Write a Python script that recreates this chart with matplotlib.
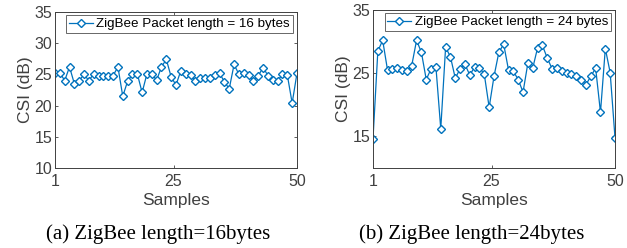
import numpy as np
import matplotlib
matplotlib.use("Agg")
import matplotlib.pyplot as plt

# CSI per sample
csi_16 = [25.3, 25.3, 24.0, 26.2, 23.5, 24.0, 25.0, 24.0, 25.1, 24.8,
          24.8, 24.8, 24.8, 26.2, 21.5, 23.9, 25.0, 25.1, 22.1, 25.1,
          25.0, 24.1, 26.2, 27.4, 24.6, 23.3, 25.6, 25.0, 24.9, 24.0,
          24.5, 24.5, 24.4, 24.9, 25.2, 23.8, 22.7, 26.6, 25.0, 25.2,
          24.9, 24.0, 24.8, 26.1, 24.8, 24.1, 24.0, 25.0, 24.9, 20.4, 25.2]
csi_24 = [14.6, 28.5, 30.2, 25.5, 25.6, 25.9, 25.5, 25.3, 26.2, 30.2,
          28.3, 24.0, 25.7, 26.0, 16.2, 29.1, 27.6, 24.2, 25.7, 26.4,
          24.7, 26.0, 25.9, 24.8, 19.6, 24.5, 28.3, 29.6, 25.5, 25.3,
          24.0, 22.0, 26.6, 25.8, 29.0, 29.4, 27.4, 25.7, 25.8, 25.3,
          25.0, 24.8, 24.5, 23.9, 23.2, 24.5, 25.8, 18.8, 28.9, 25.1, 14.8]
samples = np.linspace(1, 50, len(csi_16))

xticks = [1, 25, 50]
yticks_a = [10, 15, 20, 25, 30, 35]
yticks_b = [15, 25, 35]
legend_a = "ZigBee Packet length = 16 bytes"
legend_b = "ZigBee Packet length = 24 bytes"
caption_a = "(a) ZigBee length=16bytes"
caption_b = "(b) ZigBee length=24bytes"

plt.rcParams['font.family'] = ['Liberation Sans', 'DejaVu Sans']
blue = '#0072BD'
grey = '#404040'

fig = plt.figure(figsize=(6.27, 2.48), dpi=100)
ax1 = fig.add_axes([55/627, 1 - 168/248, 242/627, 156/248])
ax2 = fig.add_axes([373/627, 1 - 168/248, 242/627, 158/248])

panels = [(ax1, csi_16, yticks_a, legend_a), (ax2, csi_24, yticks_b, legend_b)]
for ax, vals, yt, lab in panels:
    ax.plot(samples, vals, color=blue, lw=0.9, marker='D', ms=4.3,
            mfc='white', mec=blue, mew=1.0, label=lab)
    ax.set_xlim(1, 50)
    ax.set_ylim(10, 35)
    ax.set_xticks(xticks)
    ax.set_yticks(yt)
    ax.tick_params(direction='in', length=2.5, width=0.6, colors=grey,
                   labelsize=11.5, top=True, right=True)
    ax.tick_params(axis='x', pad=4)
    ax.tick_params(axis='y', pad=2)
    for s in ax.spines.values():
        s.set_color(grey)
        s.set_linewidth(0.7)
    ax.set_xlabel("Samples", fontsize=12.5, color=grey, labelpad=3)
    ax.set_ylabel("CSI (dB)", fontsize=12.5, color=grey, labelpad=1)
    leg = ax.legend(loc='upper center', bbox_to_anchor=(0.515, 1.0), fontsize=9.6,
                    frameon=True, fancybox=False, borderpad=0.2,
                    handlelength=1.8, handletextpad=0.25, borderaxespad=0.25)
    leg.get_frame().set_edgecolor(grey)
    leg.get_frame().set_linewidth(0.7)

fig.text(158/627, 1 - 234/248, caption_a, ha='center', va='center',
         family=['Liberation Serif', 'DejaVu Serif'], fontsize=15)
fig.text(472/627, 1 - 234/248, caption_b, ha='center', va='center',
         family=['Liberation Serif', 'DejaVu Serif'], fontsize=15)

fig.savefig("out.png", dpi=100)
